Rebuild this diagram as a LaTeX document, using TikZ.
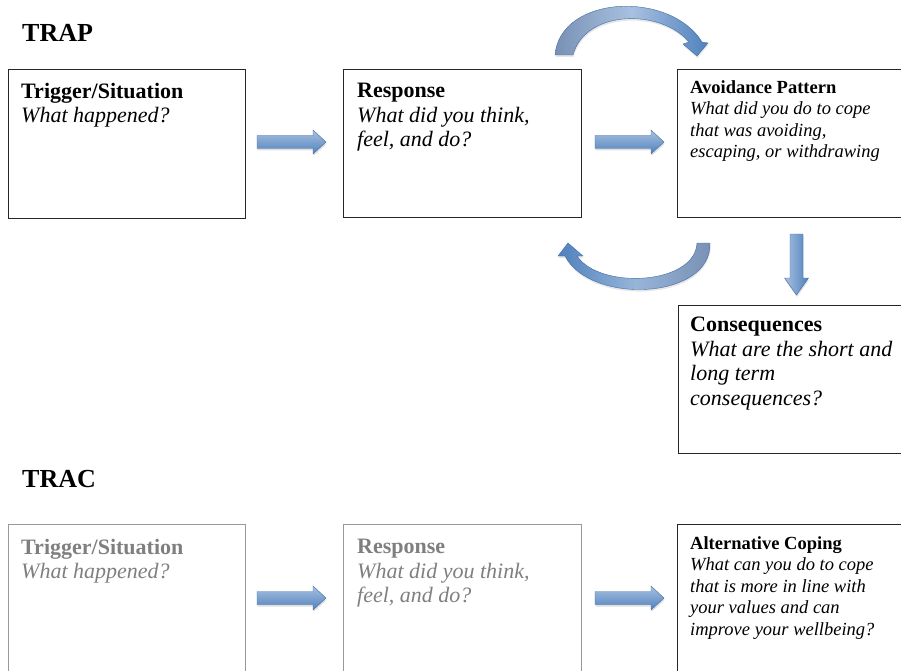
\documentclass[tikz,border=0pt]{standalone}
\usepackage{fontspec}
\setmainfont{Liberation Serif}
\usetikzlibrary{shadows}
\definecolor{arrowblue}{HTML}{4F81BD}
\definecolor{arrowlight}{HTML}{A9C1E0}
\definecolor{arrowgray}{HTML}{7890B4}
\definecolor{fadedtext}{HTML}{7F7F7F}
\definecolor{fadedline}{HTML}{999999}
\begin{document}
\begin{tikzpicture}[x=1pt,y=-1pt,
	box/.style={draw=black!85,line width=1pt,anchor=north west,inner sep=0pt},
	fadedbox/.style={box,draw=fadedline},
	boxtext/.style={anchor=north west,inner sep=0pt,align=left,font=\fontsize{22}{24.5}\selectfont},
	smalltext/.style={boxtext,font=\fontsize{18.5}{21.5}\selectfont},
	heading/.style={anchor=base west,inner sep=0pt,font=\fontsize{26}{28}\selectfont\bfseries},
	blockarrow/.style={draw=arrowblue!85!black,line width=.4pt,top color=arrowlight,bottom color=arrowblue,
		drop shadow={shadow xshift=.5pt,shadow yshift=-2pt,opacity=.25}},
	curvedarrow/.style={draw=arrowblue!85!black,line width=.4pt,
		drop shadow={shadow xshift=.5pt,shadow yshift=-2pt,opacity=.2}},
	rightarrow/.pic={\path[blockarrow] (0,-6.5) -- (56,-6.5) -- (56,-12) -- (69,0) -- (56,12) -- (56,6.5) -- (0,6.5) -- cycle;}]
	\useasboundingbox (0,0) rectangle (901,671);
	\clip (0,0) rectangle (901,671);
	% TRAP
	\node (trap) at (22,42)[heading]{TRAP};
	\node (trig) at (8,69)[box,minimum width=237pt,minimum height=149pt]{};
	\node (resp) at (343,69)[box,minimum width=238pt,minimum height=148pt]{};
	\node (avoid) at (677,69)[box,minimum width=240pt,minimum height=148pt]{};
	\node (cons) at (678,305)[box,minimum width=240pt,minimum height=148pt]{};
	\node (trigtext) at ([shift={(13,14)}]trig.north west)[boxtext]{\textbf{Trigger/Situation}\\\textit{What happened?}};
	\node (resptext) at ([shift={(14,14)}]resp.north west)[boxtext]{\textbf{Response}\\\textit{What did you think,}\\\textit{feel, and do?}};
	\node (avoidtext) at ([shift={(13,11)}]avoid.north west)[smalltext]{\textbf{Avoidance Pattern}\\\textit{What did you do to cope}\\\textit{that was avoiding,}\\\textit{escaping, or withdrawing}};
	\node (constext) at ([shift={(12,12)}]cons.north west)[boxtext]{\textbf{Consequences}\\\textit{What are the short and}\\\textit{long term}\\\textit{consequences?}};
	\pic (arrA) at (257,142) {rightarrow};
	\pic (arrB) at (595,142) {rightarrow};
	\path[blockarrow,top color=arrowblue,bottom color=arrowblue,left color=arrowlight,right color=arrowblue]
		(790,234) -- (803,234) -- (803,278) -- (808.5,278) -- (796.5,295) -- (784.5,278) -- (790,278) -- cycle;
	% curved arrows
	\path[curvedarrow,left color=arrowgray,right color=arrowblue,middle color=arrowlight]
		(555,55) .. controls (560,-5) and (670,-10) .. (702,42) -- (708,43) -- (697,56) -- (683,44) -- (689,42)
		.. controls (660,8) and (585,10) .. (573,55) -- cycle;
	\path[curvedarrow,left color=arrowblue,right color=arrowgray,middle color=arrowlight!80!arrowblue]
		(697,243) -- (710,243) .. controls (712,300) and (590,305) .. (565,256) -- (558,256) -- (568,243) -- (583,256) -- (577,256)
		.. controls (600,290) and (695,285) .. (697,243) -- cycle;
	% TRAC
	\node (trac) at (22,487)[heading]{TRAC};
	\node (trig2) at (8,524)[fadedbox,minimum width=237pt,minimum height=170pt]{};
	\node (resp2) at (343,524)[fadedbox,minimum width=238pt,minimum height=170pt]{};
	\node (alt) at (677,524)[box,minimum width=240pt,minimum height=170pt]{};
	\node (trig2text) at ([shift={(13,15)}]trig2.north west)[boxtext,text=fadedtext]{\textbf{Trigger/Situation}\\\textit{What happened?}};
	\node (resp2text) at ([shift={(14,15)}]resp2.north west)[boxtext,text=fadedtext]{\textbf{Response}\\\textit{What did you think,}\\\textit{feel, and do?}};
	\node (alttext) at ([shift={(13,12)}]alt.north west)[smalltext]{\textbf{Alternative Coping}\\\textit{What can you do to cope}\\\textit{that is more in line with}\\\textit{your values and can}\\\textit{improve your wellbeing?}};
	\pic (arrC) at (257,598) {rightarrow};
	\pic (arrD) at (595,598) {rightarrow};
\end{tikzpicture}
\end{document}
